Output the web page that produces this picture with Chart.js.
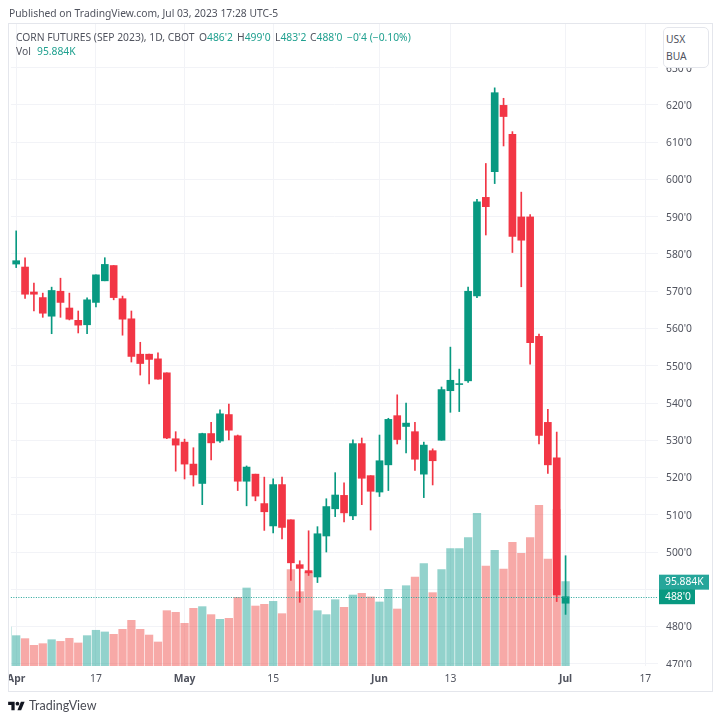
<!DOCTYPE html>
<html>
<head>
<meta charset="utf-8">
<title>Corn futures</title>
<script src="https://cdn.jsdelivr.net/npm/chart.js@4/dist/chart.umd.min.js"></script>
<style>
    html, body { margin: 0; padding: 0; background: #fff; }
    body { width: 720px; height: 722px; position: relative; overflow: hidden; font-family: "Noto Sans", sans-serif; color: #50535e; }
    canvas { position: absolute; left: 0; top: 0; }
    .txt { position: absolute; font-size: 10.3px; line-height: 14px; white-space: nowrap; z-index: 3; }
    .up { color: #1fa08f; }
    #frame { position: absolute; left: 8px; top: 23px; width: 703px; height: 667px; border: 1px solid #e4e6ec; box-sizing: content-box; z-index: 2; }
    #maskLeft { position: absolute; left: 0; top: 660px; width: 8px; height: 40px; background: #fff; z-index: 1; }
    #maskBottom { position: absolute; left: 659px; top: 667px; width: 52px; height: 23px; background: #fff; z-index: 1; }
    #currency { position: absolute; left: 663px; top: 27px; width: 44px; height: 39px; background: #fff; border: 1px solid #e4e6ec; border-radius: 5px; z-index: 3; }
    #currency div { position: absolute; left: 2px; font-size: 10.3px; line-height: 14px; }
    #brand { position: absolute; left: 29px; top: 697px; font-family: Lato, sans-serif; font-size: 12.5px; line-height: 18px; color: #4a4c55; z-index: 3; }
    #logo { position: absolute; left: 8px; top: 700px; z-index: 3; }
</style>
</head>
<body>
<canvas id="chart" width="720" height="722"></canvas>
<div id="frame"></div>
<div id="maskLeft"></div>
<div id="maskBottom"></div>

<div class="txt" style="left:9px;top:6px">Published on TradingView.com, Jul 03, 2023 17:28 UTC-5</div>
<div class="txt" style="left:16px;top:30px">CORN FUTURES (SEP 2023), 1D, CBOT</div>
<div class="txt" style="left:199px;top:30px">O<span class="up">486'2</span></div>
<div class="txt" style="left:237px;top:30px">H<span class="up">499'0</span></div>
<div class="txt" style="left:275px;top:30px">L<span class="up">483'2</span></div>
<div class="txt" style="left:310px;top:30px">C<span class="up">488'0</span></div>
<div class="txt up" style="left:347px;top:30px">−0'4 (−0.10%)</div>
<div class="txt" style="left:16px;top:44px">Vol</div>
<div class="txt up" style="left:37px;top:44px">95.884K</div>

<div id="currency"><div style="top:4px">USX</div><div style="top:21px">BUA</div></div>

<svg id="logo" width="17" height="13" viewBox="0 0 36 28"><path fill="#131722" d="M14 22H7V11H0V4h14v18zM28 22h-8l7.5-18h8L28 22z"/><circle fill="#131722" cx="20" cy="8" r="4"/></svg>
<div id="brand">TradingView</div>

<script>
    // daily bars, first one (Mar 31) only shows as a sliver of volume at the left edge
    const tradingDays = [
        'Mar 31',
        'Apr 3', 'Apr 4', 'Apr 5', 'Apr 6', 'Apr 10', 'Apr 11', 'Apr 12', 'Apr 13', 'Apr 14', 'Apr 17',
        'Apr 18', 'Apr 19', 'Apr 20', 'Apr 21', 'Apr 24', 'Apr 25', 'Apr 26', 'Apr 27', 'Apr 28',
        'May 1', 'May 2', 'May 3', 'May 4', 'May 5', 'May 8', 'May 9', 'May 10', 'May 11', 'May 12',
        'May 15', 'May 16', 'May 17', 'May 18', 'May 19', 'May 22', 'May 23', 'May 24', 'May 25', 'May 26',
        'May 30', 'May 31', 'Jun 1', 'Jun 2', 'Jun 5', 'Jun 6', 'Jun 7', 'Jun 8', 'Jun 9', 'Jun 12',
        'Jun 13', 'Jun 14', 'Jun 15', 'Jun 16', 'Jun 20', 'Jun 21', 'Jun 22', 'Jun 23', 'Jun 26', 'Jun 27',
        'Jun 28', 'Jun 29', 'Jun 30', 'Jul 3'
    ];
    const opens = [null,
        577.3, 576.5, 569.8, 568.3, 563.3, 570.0, 565.5, 562.2, 561.0, 567.0,
        572.8, 576.9, 568.0, 562.6, 553.1, 553.1, 551.85, 548.1, 530.4, 529.5,
        523.6, 518.4, 531.8, 529.8, 536.9, 531.2, 519.0, 520.9, 513.0, 507.0,
        518.1, 508.65, 496.6, 495.0, 493.3, 504.3, 511.6, 515.2, 509.7, 529.1,
        520.5, 516.1, 523.4, 536.6, 533.7, 532.3, 520.9, 527.2, 530.0, 543.3,
        544.95, 545.95, 568.75, 595.2, 602.1, 619.9, 612.1, 589.95, 589.95, 557.9,
        534.8, 525.3, 486.25
    ];
    const highs = [null,
        586.2, 579.0, 572.2, 569.5, 571.1, 573.5, 569.5, 564.7, 568.2, 574.4,
        579.0, 576.9, 568.7, 564.7, 556.3, 553.1, 553.5, 548.1, 532.3, 530.3,
        528.0, 531.9, 534.8, 538.2, 539.7, 531.4, 523.1, 520.9, 520.1, 519.65,
        520.1, 508.65, 497.65, 505.7, 506.8, 514.3, 521.3, 518.6, 530.1, 530.6,
        520.5, 531.4, 535.9, 542.2, 540.0, 534.8, 529.5, 527.7, 544.3, 555.0,
        549.1, 571.1, 594.7, 604.3, 624.6, 621.8, 612.85, 596.6, 590.6, 558.5,
        538.3, 532.2, 499.0
    ];
    const lows = [null,
        576.35, 568.1, 564.7, 563.0, 558.6, 563.0, 562.3, 558.8, 558.6, 565.8,
        572.8, 567.7, 558.2, 551.0, 547.5, 545.1, 546.4, 530.4, 521.7, 519.6,
        517.7, 512.7, 524.7, 529.4, 530.1, 516.5, 512.4, 513.75, 505.8, 505.1,
        503.5, 492.4, 486.5, 493.7, 491.8, 500.0, 509.5, 508.1, 508.7, 512.7,
        505.9, 514.9, 516.5, 529.0, 526.6, 521.9, 514.6, 518.0, 530.0, 537.5,
        537.7, 545.5, 568.3, 585.1, 598.9, 609.0, 580.4, 571.2, 550.4, 529.0,
        521.1, 486.7, 483.25
    ];
    const closes = [null,
        578.2, 569.2, 569.2, 564.1, 570.2, 567.0, 562.5, 560.9, 567.7, 574.4,
        577.2, 568.3, 562.5, 552.5, 550.6, 551.7, 546.4, 530.6, 528.7, 523.6,
        520.7, 531.8, 529.3, 537.1, 532.7, 519.0, 522.8, 515.0, 510.8, 518.1,
        506.6, 497.1, 495.6, 494.4, 504.9, 512.2, 515.3, 510.5, 529.1, 519.8,
        516.3, 524.5, 535.6, 530.2, 534.6, 524.9, 528.7, 524.5, 543.6, 546.1,
        545.2, 570.0, 594.0, 592.7, 623.3, 616.9, 584.7, 583.7, 556.2, 531.3,
        523.4, 488.5, 488.0
    ];
    // thousands of contracts
    const volumes = [44.3,
        34.5, 31.1, 23.5, 25.4, 29.9, 28.0, 31.5, 26.2, 34.5, 40.6,
        38.7, 36.0, 41.7, 51.9, 41.7, 35.2, 27.3, 62.9, 61.0, 48.5,
        65.6, 67.5, 58.4, 53.1, 54.2, 78.1, 88.7, 68.2, 70.1, 73.5,
        59.5, 109.5, 84.5, 106.9, 62.9, 58.4, 75.4, 66.7, 80.7, 82.6,
        78.5, 72.8, 87.2, 64.8, 91.3, 101.2, 116.4, 83.4, 109.5, 133.4,
        133.4, 145.9, 173.6, 113.7, 131.5, 110.3, 140.6, 128.1, 145.9, 182.7,
        121.7, 177.8, 95.884
    ];
    // Mar 31 has no candle on screen, its volume bar is green
    const volumeUp = volumes.map((v, i) => i === 0 ? true : closes[i] >= opens[i]);

    const priceTicks = [470, 480, 490, 500, 510, 520, 530, 540, 550, 560, 570, 580, 590, 600, 610, 620, 630];
    const dateTickIndex = [1, 10, 20, 30, 42, 50, 63, 72];
    const dateTickLabels = ['Apr', '17', 'May', '15', 'Jun', '13', 'Jul', '17'];
    const monthLabels = ['Apr', 'May', 'Jun', 'Jul'];
    const lastPriceLabel = "488'0";
    const lastVolumeLabel = '95.884K';

    const UP = '#089981';
    const DOWN = '#f23645';
    const UP_VOL = 'rgba(38, 166, 154, 0.5)';
    const DOWN_VOL = 'rgba(239, 83, 80, 0.5)';
    const GRID = '#f2f3f7';
    const FONT = '"Noto Sans", sans-serif';

    const candleDays = tradingDays.map((d, i) => i).filter(i => opens[i] !== null);
    const candleColors = candleDays.map(i => closes[i] >= opens[i] ? UP : DOWN);

    // last price dotted line + the two badges on the price scale
    const lastValuePlugin = {
        id: 'lastValue',
        afterDatasetsDraw(chart) {
            const { ctx, chartArea, scales } = chart;
            const last = closes.length - 1;
            const yPrice = scales.y.getPixelForValue(closes[last]);
            const yVol = scales.vol.getPixelForValue(volumes[last]);
            ctx.save();
            ctx.strokeStyle = '#26a69a';
            ctx.lineWidth = 1;
            ctx.setLineDash([1, 1.5]);
            ctx.beginPath();
            ctx.moveTo(chartArea.left, Math.round(yPrice) + 0.5);
            ctx.lineTo(chartArea.right, Math.round(yPrice) + 0.5);
            ctx.stroke();
            ctx.setLineDash([]);

            ctx.font = '10.3px ' + FONT;
            ctx.textBaseline = 'middle';
            ctx.textAlign = 'left';
            ctx.fillStyle = '#26a69a';
            ctx.fillRect(chartArea.right + 1, yVol - 7, 50, 15);
            ctx.fillStyle = UP;
            ctx.fillRect(chartArea.right + 1, yPrice - 7.5, 36, 15);
            ctx.fillStyle = '#fff';
            ctx.fillText(lastVolumeLabel, chartArea.right + 7, yVol + 0.5);
            ctx.fillText(lastPriceLabel, chartArea.right + 7, yPrice);
            ctx.restore();
        }
    };

    new Chart(document.getElementById('chart'), {
        type: 'bar',
        data: {
            datasets: [
                {
                    label: 'Body',
                    order: 1,
                    yAxisID: 'y',
                    grouped: false,
                    clip: 0,
                    barThickness: 7,
                    backgroundColor: candleColors,
                    data: candleDays.map(i => ({ x: i, y: [opens[i], closes[i]] }))
                },
                {
                    label: 'Wick',
                    order: 2,
                    yAxisID: 'y',
                    grouped: false,
                    clip: 0,
                    barThickness: 1,
                    backgroundColor: candleColors,
                    data: candleDays.map(i => ({ x: i, y: [lows[i], highs[i]] }))
                },
                {
                    label: 'Vol',
                    order: 3,
                    yAxisID: 'vol',
                    grouped: false,
                    clip: 0,
                    barThickness: 7.6,
                    backgroundColor: volumes.map((v, i) => volumeUp[i] ? UP_VOL : DOWN_VOL),
                    data: volumes.map((v, i) => ({ x: i, y: v }))
                }
            ]
        },
        options: {
            responsive: false,
            animation: false,
            devicePixelRatio: 1,
            layout: { padding: { left: 9, top: 24, right: 8, bottom: 31 } },
            plugins: { legend: { display: false }, tooltip: { enabled: false } },
            scales: {
                x: {
                    type: 'linear',
                    offset: false,
                    min: 0.4,
                    max: 73.43,
                    border: { display: false },
                    grid: { color: GRID, drawTicks: false, offset: false },
                    afterBuildTicks: scale => { scale.ticks = dateTickIndex.map(v => ({ value: v })); },
                    afterFit: scale => { scale.height = 25; },
                    ticks: {
                        autoSkip: false,
                        maxRotation: 0,
                        padding: 7,
                        color: '#50535e',
                        font: ctx => ({
                            family: FONT,
                            size: 10.3,
                            weight: monthLabels.includes(dateTickLabels[ctx.index]) ? 'bold' : 'normal'
                        }),
                        callback: v => dateTickLabels[dateTickIndex.indexOf(v)]
                    }
                },
                y: {
                    position: 'right',
                    min: 469.4,
                    max: 641.74,
                    border: { display: false },
                    grid: { color: GRID, drawTicks: false },
                    afterBuildTicks: scale => { scale.ticks = priceTicks.map(v => ({ value: v })); },
                    afterFit: scale => { scale.width = 54; },
                    ticks: {
                        padding: 8,
                        labelOffset: 1,
                        color: '#50535e',
                        font: { family: FONT, size: 10.3 },
                        callback: v => v + "'0"
                    }
                },
                vol: {
                    display: false,
                    min: 0,
                    max: 730
                }
            }
        },
        plugins: [lastValuePlugin]
    });
</script>
</body>
</html>
